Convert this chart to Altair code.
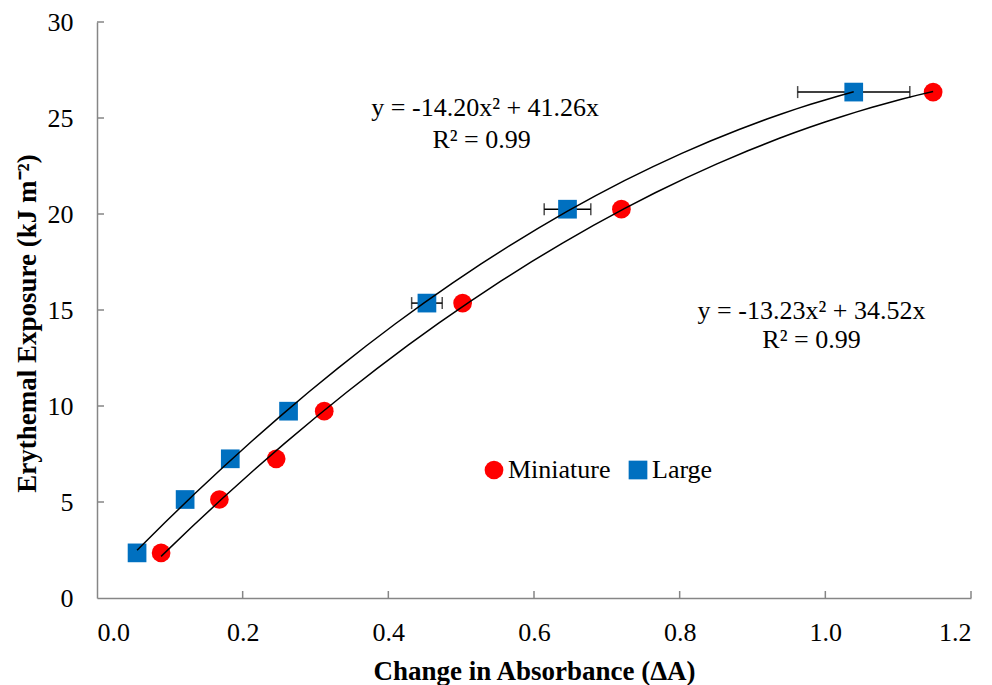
import altair as alt
import pandas as pd

# ---- data ----
series_names = ["Miniature", "Large"]
exposure = [2.35, 5.13, 7.25, 9.73, 15.36, 20.25, 26.35]
mini_dA = [0.088, 0.168, 0.246, 0.312, 0.502, 0.720, 1.148]
large_dA = [0.055, 0.121, 0.183, 0.263, 0.453, 0.646, 1.039]
large_err = [0.0, 0.0, 0.0, 0.0, 0.021, 0.032, 0.077]

x_ticks = [0.0, 0.2, 0.4, 0.6, 0.8, 1.0, 1.2]
y_ticks = [0, 5, 10, 15, 20, 25, 30]

eq_text = ["y = -14.20x\u00b2 + 41.26x", "R\u00b2 = 0.99",
           "y = -13.23x\u00b2 + 34.52x", "R\u00b2 = 0.99"]
eq_x = [0.533, 0.528, 0.981, 0.981]
eq_y = [25.52, 23.85, 14.93, 13.43]

colors = ["#FF0000", "#0070C0"]
shapes = ["circle", "square"]

rows = []
for xv, yv in zip(mini_dA, exposure):
    rows.append({"series": "Miniature", "x": xv, "y": yv, "err": 0.0})
for xv, yv, e in zip(large_dA, exposure, large_err):
    rows.append({"series": "Large", "x": xv, "y": yv, "err": e})
df = pd.DataFrame(rows)
df["lo"] = df["x"] - df["err"]
df["hi"] = df["x"] + df["err"]
err_df = df[df["err"] > 0]

eq_df = pd.DataFrame({"t": eq_text, "x": eq_x, "y": eq_y})
xt_df = pd.DataFrame({"v": x_ticks[1:]})
yt_df = pd.DataFrame({"v": y_ticks[1:]})

W, H = 874, 576
FONT = "Liberation Serif"
FS = 26
XT = "Change in Absorbance (\u0394A)"
YT = "Erythemal Exposure (kJ m\u207b\u00b2)"

xscale = alt.Scale(domain=[0, 1.2], nice=False, zero=False)
yscale = alt.Scale(domain=[0, 30], nice=False)
xaxis = alt.Axis(values=x_ticks, format=".1f", title=XT)
yaxis = alt.Axis(values=y_ticks, format="d", title=YT, titleY=301)


def X(f):
    return alt.X(f, type="quantitative", scale=xscale, axis=xaxis)


def Y(f):
    return alt.Y(f, type="quantitative", scale=yscale, axis=yaxis)


leg = alt.Legend(title=None, orient="none", direction="horizontal", legendX=384, legendY=435)
color_enc = alt.Color("series:N", scale=alt.Scale(domain=series_names, range=colors), legend=leg)
shape_enc = alt.Shape("series:N", scale=alt.Scale(domain=series_names, range=shapes), legend=leg)

xticks_layer = alt.Chart(xt_df).mark_rule(color="#868686", strokeWidth=1.5).encode(
    x=X("v"), y=alt.value(H), y2=alt.value(H - 7))
yticks_layer = alt.Chart(yt_df).mark_rule(color="#868686", strokeWidth=1.5).encode(
    y=Y("v"), x=alt.value(0), x2=alt.value(7))

err_rule = alt.Chart(err_df).mark_rule(color="black", strokeWidth=1.5).encode(
    x=X("lo"), x2="hi:Q", y=Y("y"))
err_lo = alt.Chart(err_df).mark_tick(color="black", orient="vertical", size=12, thickness=1.5).encode(
    x=X("lo"), y=Y("y"))
err_hi = alt.Chart(err_df).mark_tick(color="black", orient="vertical", size=12, thickness=1.5).encode(
    x=X("hi"), y=Y("y"))

points = alt.Chart(df).mark_point(filled=True, opacity=1, size=350, strokeWidth=0).encode(
    x=X("x"), y=Y("y"), color=color_enc, shape=shape_enc)

trend = alt.Chart(df).transform_regression(
    "x", "y", method="poly", order=2, groupby=["series"]
).mark_line(color="black", strokeWidth=1.5).encode(
    x=X("x"), y=Y("y"), detail="series:N")

eqs = alt.Chart(eq_df).mark_text(font=FONT, fontSize=FS, color="black", align="center",
                                 baseline="middle").encode(
    x=X("x"), y=Y("y"), text="t:N")

chart = alt.layer(xticks_layer, yticks_layer, err_rule, err_lo, err_hi, points, trend, eqs).properties(
    width=W, height=H,
    padding={"left": 89, "top": 14, "right": 13, "bottom": 100},
    autosize=alt.AutoSizeParams(type="none"),
).configure_view(stroke=None).configure_axis(
    grid=False, ticks=False, domainColor="#868686", domainWidth=1.5,
    labelFont=FONT, labelFontSize=FS, labelColor="black",
    titleFont=FONT, titleFontSize=27, titleFontWeight="bold", titleColor="black",
).configure_axisX(labelPadding=21, titlePadding=13).configure_axisY(
    labelPadding=24, titlePadding=6
).configure_legend(
    labelFont=FONT, labelFontSize=FS, labelColor="black", symbolSize=350,
    symbolStrokeWidth=0, padding=0, columnPadding=14, labelOffset=1
)

chart.save("out.html", embed_options={"renderer": "svg", "actions": False})
